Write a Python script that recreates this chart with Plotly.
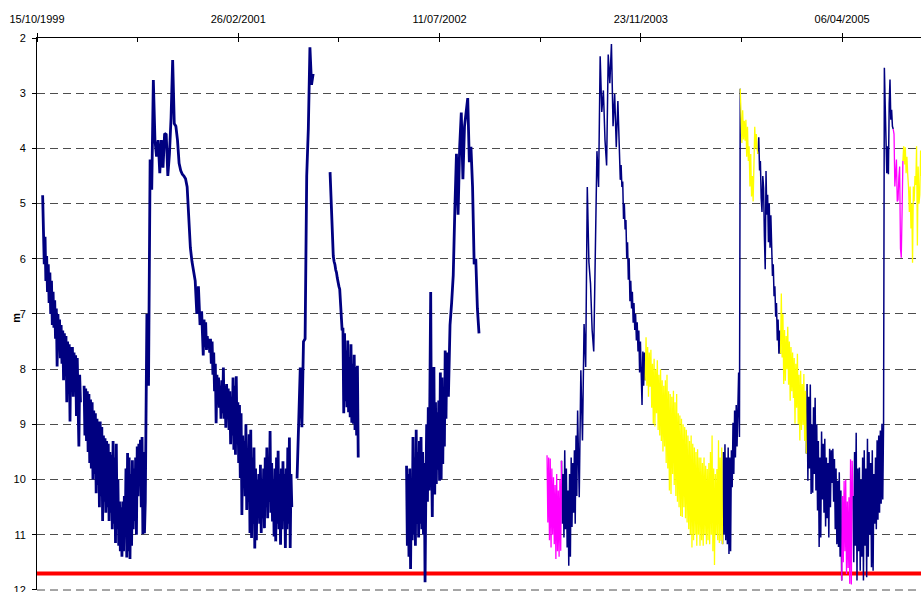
import pandas as pd
import plotly.graph_objects as go

# Depth to groundwater (m below ground). Each run: start date, sampling step (days), readings.
ALERT_LEVEL = 11.7

# ---- 1999-2000 ----
a1_start = "1999-10-29"
a1_values = [4.85, 5.6, 6.1, 5.6, 6.4, 5.95, 6.6, 6.1, 6.8, 6.25,
             7.0, 6.4, 7.2, 6.6, 7.25, 6.75, 7.45, 6.9, 7.95, 7.0,
             7.6, 7.1, 7.8, 7.2, 7.9, 7.3, 8.2, 7.35, 8.1, 7.4,
             8.6, 7.5, 8.3, 7.55, 8.95, 7.6, 8.4, 7.6, 8.5, 7.7,
             8.4, 7.75, 8.85, 7.8, 8.6, 9.4, 8.1, 8.6]

b1_start = "2000-02-09"
b1_values = [8.3, 9.2, 8.35, 9.3, 8.4, 9.5, 8.45, 9.7, 8.55, 9.8,
             8.6, 10.0, 8.75, 9.9, 8.8, 10.25, 8.9, 10.1, 8.95, 10.5,
             8.95, 10.3, 9.05, 10.75, 9.2, 10.4, 9.25, 10.6, 9.3, 10.5,
             9.35, 10.75, 9.5, 10.6, 9.55, 10.9, 9.3, 10.8, 9.6, 11.15,
             9.35, 10.9, 10.0, 11.2, 10.4, 11.3, 10.5, 11.4, 10.4, 11.3,
             10.3, 11.0, 9.8, 11.41, 9.52, 11.3, 9.6, 11.44, 9.9, 11.2,
             9.65, 10.9, 9.8, 10.75, 9.6, 11.0, 9.4, 10.3, 9.35, 10.0,
             9.28, 10.5, 9.23, 10.99, 9.5, 10.97, 10.4]

b2_start = "2000-07-10"
b2_values = [10.4, 7.0, 8.3, 4.2, 4.75, 2.76, 3.85, 4.15, 3.85, 4.45,
             3.85, 4.35, 3.73, 3.75, 4.5, 4.1, 3.45, 2.4, 3.55, 3.6,
             3.85, 4.27, 4.4, 4.47, 4.5, 4.55, 4.7, 5.2, 5.8, 6.05,
             6.2, 6.4, 7.0, 6.5, 7.2, 6.95, 7.75]

b3_start = "2000-12-01"
b3_values = [7.75, 7.1, 7.6, 7.15, 7.65, 7.4, 7.6, 7.45, 7.7, 7.45,
             7.9, 7.5, 8.1, 7.7, 8.4, 7.9, 8.98, 8.1, 8.6, 8.15,
             8.7, 8.3, 8.9, 8.2, 8.8, 7.97, 8.9, 8.3, 9.06, 8.27,
             8.86, 8.35, 9.1, 8.4, 9.36, 8.5, 9.2, 8.15, 9.46, 8.3,
             9.55, 8.13, 9.3, 8.6, 9.7, 8.65, 9.97, 8.8, 10.64, 9.2,
             10.07, 9.3, 10.3, 9.0, 10.55, 9.5, 10.4, 9.18, 10.97, 9.1,
             11.06, 9.6, 10.8, 9.42, 11.25, 9.8, 11.1, 10.0, 10.6, 9.9,
             10.8, 9.73, 10.97, 10.0, 10.7, 9.8, 10.88, 9.6, 10.5, 9.42,
             10.7, 9.6, 10.4, 9.12, 10.6, 9.7, 10.76, 10.0, 11.03, 9.8,
             11.12, 9.6, 10.8, 9.48, 10.9, 9.9, 11.18, 9.8, 10.9, 9.67,
             10.7, 9.9, 11.24, 9.8, 10.9, 9.42, 10.8, 9.24, 11.24, 9.9,
             10.5]

# ---- 2001-2002 ----
c_start = "2001-07-22"
c_values = [9.98, 9.1, 7.97, 9.05, 7.5, 7.45, 4.5, 3.65, 2.17, 2.85, 2.65]

d_start = "2001-10-12"
d_values = [4.43, 4.9, 5.27, 5.6, 5.95, 6.05, 6.1, 6.2, 6.25, 6.35,
            6.45, 6.5, 6.55, 6.9, 7.05, 7.3, 7.25, 8.8, 7.35, 8.58,
            7.66, 8.69, 7.48, 8.78, 7.78, 8.87, 7.55, 8.97, 7.9, 8.99,
            7.74, 9.1, 7.96, 9.2, 7.94, 9.6]

e1_start = "2002-04-20"
e1_values = [9.75, 11.2, 9.9, 11.4, 9.8, 11.62, 10.0, 11.1, 9.23, 11.0,
             9.6, 11.2, 9.1, 10.8, 9.5, 11.05, 9.3, 10.8, 9.23, 10.9,
             9.5, 11.0, 9.7, 11.86, 10.2, 9.0, 10.4, 8.69, 10.2, 8.0,
             6.6, 9.5, 10.68, 8.8, 7.96, 10.27, 8.6, 10.08, 8.78, 9.82,
             8.57, 10.02, 8.06, 10.0, 8.15, 9.72, 8.32, 9.4, 7.66, 8.9,
             7.7]

e2_start = "2002-07-29"
e2_values = [7.7, 8.5, 7.2, 6.8, 6.3, 5.1, 4.1, 5.2, 3.97, 3.35,
             4.56, 3.6, 3.3, 3.09, 4.25, 3.97, 4.7, 6.1, 6.0, 6.9, 7.35]

# ---- 2003-2004 ----
f_mag_start = "2003-04-04"
f_mag_values = [9.56, 10.78, 9.6, 11.1, 9.62, 11.23, 9.8, 11.0, 9.96, 11.17,
                10.1, 11.44, 9.9, 11.3, 10.2, 11.4, 10.0, 11.29, 9.66]

f1_start = "2003-05-10"
f1_values = [9.66, 10.8, 9.9, 11.05, 9.47, 10.9, 9.8, 11.23, 10.2, 11.56,
             9.9, 11.4, 9.6, 10.86, 9.7, 10.6, 9.47, 10.8, 9.2, 10.3, 8.75]

f2_start = "2003-06-19"
f2_values = [8.75, 10.32, 8.02, 9.29, 7.18, 7.96, 4.7, 6.06, 6.45, 7.29,
             7.68, 5.86, 4.05, 4.7, 2.33, 3.34, 2.95, 3.85, 4.31, 2.3,
             2.82, 2.11, 3.6, 3.01, 3.98, 3.14, 4.05]

f3_start = "2003-10-01"
f3_values = [4.05, 4.57, 4.3, 4.7, 4.6, 5.28, 5.0, 5.47, 5.3, 5.99,
             5.7, 6.38, 6.0, 6.77, 6.4, 6.9, 6.6, 7.16, 6.8, 7.29,
             7.0, 7.48, 7.15, 7.68, 7.3, 8.06, 7.5, 8.2, 8.65, 7.68,
             8.3, 7.7, 8.2]

f_yel_start = "2003-12-04"
f_yel_values = [8.2, 7.42, 8.3, 7.6, 8.5, 7.7, 8.32, 7.65, 8.7, 7.9,
                8.99, 7.81, 9.04, 8.0, 8.8, 7.84, 9.1, 8.1, 9.2, 8.0,
                9.3, 8.2, 9.49, 8.3, 9.4, 8.2, 9.7, 8.1, 9.8, 8.4,
                10.2, 8.45, 10.26, 8.5, 9.9, 8.39, 10.1, 8.6, 10.3, 8.45,
                10.4, 8.8, 10.5, 8.84, 10.66, 8.9, 10.68, 9.0, 10.5, 9.05,
                10.7, 9.1, 10.78, 9.2, 10.9, 9.3, 11.0, 9.2, 11.23, 9.35,
                11.1, 9.42, 11.0, 9.5, 11.2, 9.45, 11.0, 9.6, 11.2, 9.6,
                11.1, 9.7, 11.2, 9.6, 11.0, 9.75, 11.17, 9.81, 11.1, 9.7,
                11.17, 9.5, 11.0, 9.2, 11.3, 9.8, 11.55, 9.9, 11.0, 9.81,
                11.1, 9.29, 11.15, 9.6, 11.11, 9.42, 11.17]

f4_start = "2004-06-13"
f4_values = [11.17, 9.5, 11.0, 9.36, 11.1, 9.6, 11.17, 9.42, 11.35, 9.6,
             11.3, 9.47, 10.14, 8.97, 9.9, 8.75, 9.6, 8.65, 9.4, 8.19,
             8.06, 9.23, 2.92]

# ---- 2004-2005 ----
g1_yel_start = "2004-07-27"
g1_yel_values = [2.92, 3.3, 3.9, 3.31, 3.84, 3.5, 3.86, 3.48, 4.15, 3.61,
                 4.23, 3.96, 4.69, 4.1, 4.87, 4.5, 4.96, 4.3, 3.61, 4.0,
                 3.74, 4.02, 4.1]

g2_start = "2004-09-09"
g2_values = [4.1, 3.8, 4.4, 4.23, 4.9, 5.15, 4.5, 4.72, 5.6, 6.19,
             4.41, 5.2, 4.84, 5.7, 5.0, 5.8, 5.21, 6.0, 6.31, 6.1,
             6.68, 6.5, 7.05, 6.8, 7.48, 7.1, 7.72, 7.3, 7.72]

g3_yel_start = "2004-11-04"
g3_yel_values = [7.72, 6.63, 7.79, 7.0, 8.27, 7.29, 8.21, 7.4, 8.0, 7.23,
                 8.28, 7.5, 8.57, 7.6, 8.4, 7.7, 8.52, 7.8, 8.99, 7.9,
                 8.7, 7.72, 9.0, 8.1, 9.29, 8.03, 9.1, 8.27, 9.01, 8.09,
                 9.3, 8.39, 9.53]

g4_start = "2005-01-07"
g4_values = [9.53, 8.27, 10.02, 8.5, 9.8, 8.28, 10.26, 9.0, 10.24, 8.69,
             9.9, 8.52, 10.2, 9.0, 10.56, 9.3, 11.22, 9.6, 11.05, 9.13,
             10.36, 9.35, 10.6, 9.26, 10.85, 9.6, 10.7, 9.7, 11.05, 9.44,
             10.5, 9.47, 10.06, 9.44, 10.4, 9.63, 10.9, 9.8, 11.17, 10.02,
             11.22, 9.87, 11.4, 10.2, 11.83]

g5_mag_start = "2005-04-05"
g5_mag_values = [11.83, 10.3, 11.5, 10.02, 11.3, 10.0, 11.71, 10.4, 11.6, 10.32,
                 11.89, 9.63, 11.9, 9.66, 10.3]

g6_start = "2005-05-03"
g6_values = [10.3, 11.5, 9.5, 11.2, 9.15, 11.83, 9.8, 11.3, 9.78, 11.65,
             10.0, 11.4, 9.6, 11.83, 9.47, 11.2, 9.8, 11.77, 9.26, 11.4,
             9.5, 11.0, 9.7, 11.59, 9.47, 11.65, 9.9, 10.8, 9.6, 10.9,
             9.29, 10.73, 9.2, 10.6, 9.11, 10.44, 8.99, 10.36, 9.0, 2.54,
             3.2, 3.72, 4.45, 3.96, 4.47, 3.2, 2.75, 3.48, 3.3, 3.6,
             3.65]

h_mag_start = "2005-08-11"
h_mag_values = [3.65, 3.74, 4.69, 4.23, 4.2, 4.96, 4.93, 4.53, 4.33, 5.82,
                5.98, 5.15, 4.23]

h_yel_start = "2005-09-04"
h_yel_values = [4.23, 3.96, 4.29, 3.98, 4.45, 4.15, 4.47, 4.7, 5.15, 4.69,
                5.45, 5.0, 6.07, 4.69, 4.96, 4.5, 4.66, 3.96, 5.76, 4.33,
                5.0, 4.84, 4.04, 4.5, 4.3]

x_ticks_start = "1999-10-15"
x_range = ["1999-10-15", "2005-10-19"]
y_range = [12.001, 2]
DAY_MS = 86400000
GRID_COLOR = "#4d4d4d"
GRID_DASH = "8px,5px"


def build(pieces):
    """Each piece is a list of joined runs (start, step_days, values); pieces are separated by gaps."""
    xs, ys = [], []
    for piece in pieces:
        for k, (start, step, vals) in enumerate(piece):
            dates = pd.date_range(start, periods=len(vals), freq=f"{step}D")
            skip = 1 if k > 0 else 0  # joined run repeats the previous run's last reading
            xs += [d.strftime("%Y-%m-%d") for d in dates][skip:]
            ys += list(vals)[skip:]
        xs.append(None)
        ys.append(None)
    return xs, ys


navy_early = build([
    [(a1_start, 2, a1_values)],
    [(b1_start, 2, b1_values), (b2_start, 4, b2_values), (b3_start, 2, b3_values)],
    [(c_start, 4, c_values)],
    [(d_start, 2, d_values)],
    [(e1_start, 2, e1_values), (e2_start, 4, e2_values)],
])
navy_late = build([
    [(f1_start, 2, f1_values), (f2_start, 4, f2_values), (f3_start, 2, f3_values)],
    [(f4_start, 2, f4_values)],
    [(g2_start, 2, g2_values)],
    [(g4_start, 2, g4_values)],
    [(g6_start, 2, g6_values)],
])
yellow = build([
    [(f_yel_start, 2, f_yel_values)],
    [(g1_yel_start, 2, g1_yel_values)],
    [(g3_yel_start, 2, g3_yel_values)],
    [(h_yel_start, 2, h_yel_values)],
])
magenta = build([
    [(f_mag_start, 2, f_mag_values)],
    [(g5_mag_start, 2, g5_mag_values)],
    [(h_mag_start, 2, h_mag_values)],
])

fig = go.Figure()
for (xs, ys), color, width in [
    (navy_early, "#000080", 2.8),
    (navy_late, "#000080", 1.5),
    (yellow, "#FFFF00", 1.3),
    (magenta, "#FF00FF", 1.3),
]:
    fig.add_trace(go.Scatter(x=xs, y=ys, mode="lines", connectgaps=False,
                             line=dict(color=color, width=width), hoverinfo="skip",
                             showlegend=False))

# bottom gridline sits on the plot edge
fig.add_shape(type="line", xref="paper", x0=0, x1=1, yref="paper", y0=0, y1=0,
              layer="between", line=dict(color=GRID_COLOR, width=1, dash=GRID_DASH))
fig.add_shape(type="line", xref="paper", x0=0, x1=1, yref="y",
              y0=ALERT_LEVEL, y1=ALERT_LEVEL, layer="between",
              line=dict(color="#FF0000", width=4))

fig.add_annotation(text="<b>m</b>", xref="paper", x=0, xanchor="center", xshift=-21,
                   yref="y", y=7.07, textangle=-90, showarrow=False,
                   font=dict(family="Liberation Sans, Arial", size=11, color="black"))

fig.update_layout(
    width=921, height=592,
    margin=dict(l=37, r=0, t=38, b=2),
    paper_bgcolor="white", plot_bgcolor="white",
    font=dict(family="Liberation Sans, Arial", size=11, color="black"),
    showlegend=False,
)
fig.update_xaxes(
    type="date", side="top", range=x_range, automargin=False,
    tick0=x_ticks_start, dtick=500 * DAY_MS, tickformat="%d/%m/%Y",
    ticks="outside", ticklen=4, tickcolor="black", ticklabelstandoff=6,
    ticklabeloverflow="allow",
    minor=dict(dtick=250 * DAY_MS, tick0=x_ticks_start, ticks="inside",
               ticklen=4, tickcolor="black", showgrid=False),
    showline=True, linecolor="black", linewidth=1,
    showgrid=False, zeroline=False,
)
fig.update_yaxes(
    range=y_range, tick0=2, dtick=1, automargin=False,
    ticks="outside", ticklen=4, tickcolor="black", ticklabelstandoff=4,
    ticklabeloverflow="allow",
    showline=True, linecolor="black", linewidth=1,
    showgrid=True, gridcolor=GRID_COLOR, gridwidth=1, griddash=GRID_DASH,
    zeroline=False,
)

fig.write_html("out.html")
